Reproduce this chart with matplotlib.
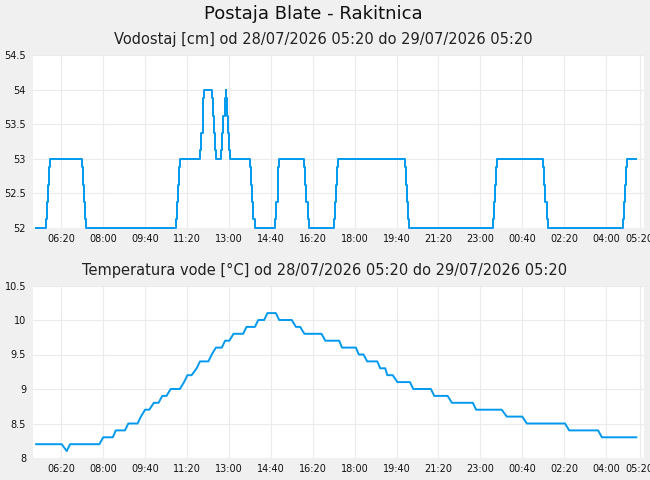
import matplotlib
matplotlib.use("Agg")
import matplotlib.pyplot as plt

# minutes since 28/07/2026 05:20
level_minutes = [0, 23, 25.5, 28, 30, 32,
                 110, 112.5, 115, 117.5, 120,
                 333, 335.5, 338, 340.5, 342.5,
                 392, 394.5, 397, 399, 401,
                 420, 422.5, 425, 427.5, 430,
                 442, 444.5, 447, 449.5, 452,
                 453, 455.5, 458, 460.5, 462,
                 510, 512.5, 515, 518, 522,
                 571, 573.5, 576, 578, 580,
                 640, 642.5, 645, 648, 651,
                 711.5, 714, 716.5, 719, 721,
                 881, 883.5, 886, 888.5, 890.5,
                 1090, 1092.5, 1095, 1098, 1100.5,
                 1210, 1212.5, 1215, 1218.5, 1222,
                 1401, 1403.5, 1406, 1408.5, 1411,
                 1432]
level_cm = [52, 52.125, 52.375, 52.625, 52.875, 53,
            52.875, 52.625, 52.375, 52.125, 52,
            52.125, 52.375, 52.625, 52.875, 53,
            53.125, 53.375, 53.625, 53.875, 54,
            53.875, 53.625, 53.375, 53.125, 53,
            53.125, 53.375, 53.625, 53.875, 54,
            53.875, 53.625, 53.375, 53.125, 53,
            52.875, 52.625, 52.375, 52.125, 52,
            52.125, 52.375, 52.625, 52.875, 53,
            52.875, 52.625, 52.375, 52.125, 52,
            52.125, 52.375, 52.625, 52.875, 53,
            52.875, 52.625, 52.375, 52.125, 52,
            52.125, 52.375, 52.625, 52.875, 53,
            52.875, 52.625, 52.375, 52.125, 52,
            52.125, 52.375, 52.625, 52.875, 53,
            53]

temp_minutes = [0, 61, 73, 81, 151, 160, 183, 190, 212, 220, 242, 250, 260, 270,
                281, 292, 301, 311, 321, 343, 353, 361, 371, 383, 391, 411, 419,
                429, 443, 451, 461, 471, 494, 502, 522, 530, 544, 552, 572, 580,
                610, 620, 630, 640, 681, 690, 723, 730, 763, 770, 781, 790, 814,
                821, 833, 838, 851, 862, 892, 900, 942, 950, 982, 992, 1042, 1050,
                1111, 1123, 1160, 1171, 1262, 1272, 1341, 1350, 1432]
temp_c = [8.2, 8.2, 8.1, 8.2, 8.2, 8.3, 8.3, 8.4, 8.4, 8.5, 8.5, 8.6, 8.7, 8.7,
          8.8, 8.8, 8.9, 8.9, 9.0, 9.0, 9.1, 9.2, 9.2, 9.3, 9.4, 9.4, 9.5,
          9.6, 9.6, 9.7, 9.7, 9.8, 9.8, 9.9, 9.9, 10.0, 10.0, 10.1, 10.1, 10.0,
          10.0, 9.9, 9.9, 9.8, 9.8, 9.7, 9.7, 9.6, 9.6, 9.5, 9.5, 9.4, 9.4,
          9.3, 9.3, 9.2, 9.2, 9.1, 9.1, 9.0, 9.0, 8.9, 8.9, 8.8, 8.8, 8.7,
          8.7, 8.6, 8.6, 8.5, 8.5, 8.4, 8.4, 8.3, 8.3]

tick_minutes = [60, 160, 260, 360, 460, 560, 660, 760, 860, 960, 1060, 1160, 1260, 1360, 1440]
tick_labels = ["06:20", "08:00", "09:40", "11:20", "13:00", "14:40", "16:20", "18:00",
               "19:40", "21:20", "23:00", "00:40", "02:20", "04:00", "05:20"]
level_ticks = [52, 52.5, 53, 53.5, 54, 54.5]
temp_ticks = [8, 8.5, 9, 9.5, 10, 10.5]

bg = '#f0f0f0'
line_color = '#0099ee'
grid_color = '#ebebeb'

fig = plt.figure(figsize=(6.5, 4.8), dpi=100, facecolor=bg)

fig.text(0.482, 0.971, "Postaja Blate - Rakitnica", ha='center', va='center',
         fontsize=13, color='#111111')
fig.text(0.497, 0.917, "Vodostaj [cm] od 28/07/2026 05:20 do 29/07/2026 05:20",
         ha='center', va='center', fontsize=10.5, color='#222222')
fig.text(0.499, 0.437, "Temperatura vode [°C] od 28/07/2026 05:20 do 29/07/2026 05:20",
         ha='center', va='center', fontsize=10.5, color='#222222')

ax1 = fig.add_axes([33 / 650, 1 - 228 / 480, 611 / 650, 173 / 480])
ax2 = fig.add_axes([33 / 650, 1 - 458 / 480, 611 / 650, 172.5 / 480])

ax1.plot(level_minutes, level_cm, drawstyle='steps-post', color=line_color,
         lw=1.4, clip_on=False, zorder=3)
ax2.plot(temp_minutes, temp_c, color=line_color, lw=1.4, clip_on=False, zorder=3)

for ax, yt in [(ax1, level_ticks), (ax2, temp_ticks)]:
    ax.set_facecolor('white')
    ax.set_xlim(-7.5, 1450.5)
    ax.set_ylim(yt[0], yt[-1])
    ax.set_xticks(tick_minutes)
    ax.set_xticklabels(tick_labels)
    ax.set_yticks(yt)
    ax.set_yticklabels(['%g' % v for v in yt])
    ax.grid(True, color=grid_color, lw=0.8)
    ax.set_axisbelow(True)
    for s in ax.spines.values():
        s.set_visible(False)
    ax.tick_params(axis='both', length=0, labelsize=7, colors='#111111')
    ax.tick_params(axis='x', pad=4)
    ax.tick_params(axis='y', pad=5)

fig.savefig('out.png', dpi=100, facecolor=bg)
